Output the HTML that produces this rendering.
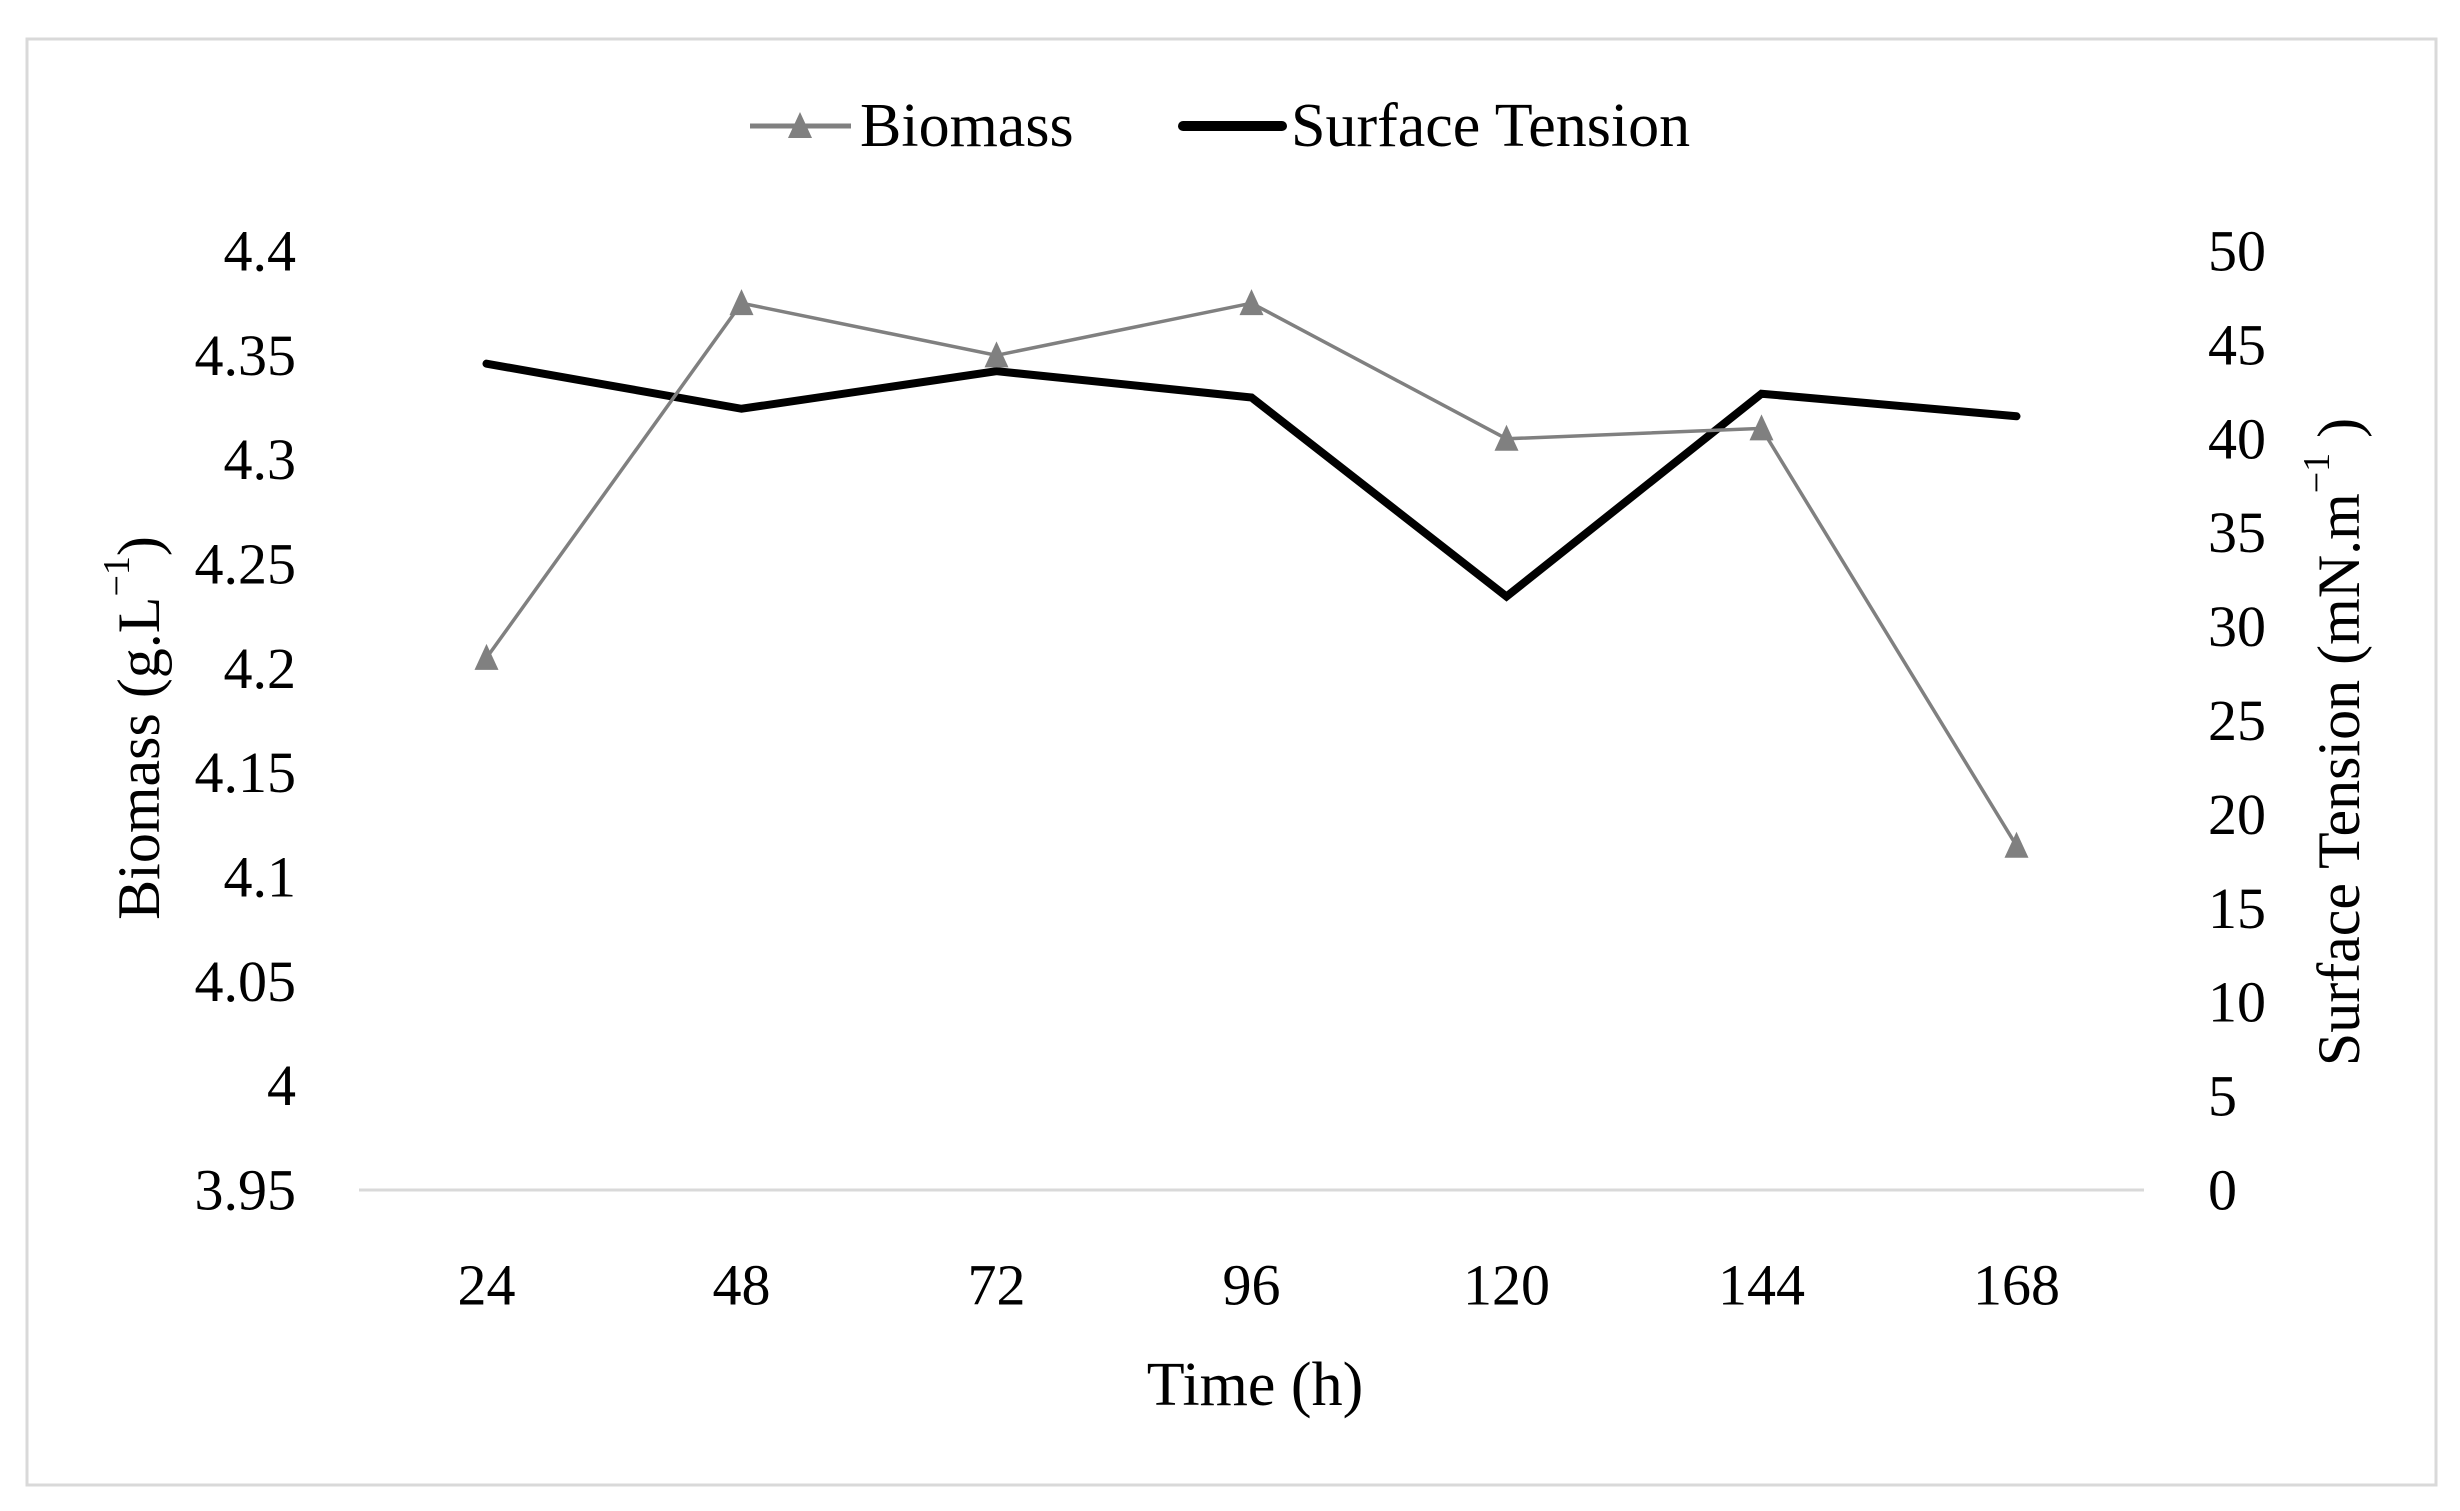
<!DOCTYPE html>
<html><head><meta charset="utf-8"><style>
html,body{margin:0;padding:0;background:#fff;}
svg{display:block;font-family:"Liberation Serif",serif;}
</style></head><body>
<svg width="2460" height="1511" viewBox="0 0 2460 1511">
<rect x="27" y="39" width="2409" height="1446" fill="#fff" stroke="#d9d9d9" stroke-width="3"/>
<g id="g"></g>
</svg>
<script>
const categories = ["24","48","72","96","120","144","168"];
const biomass = [4.205, 4.375, 4.35, 4.375, 4.31, 4.315, 4.115];
const surfaceTension = [44.0, 41.6, 43.6, 42.2, 31.6, 42.4, 41.2];
const leftTicks = ["3.95","4","4.05","4.1","4.15","4.2","4.25","4.3","4.35","4.4"];
const rightTicks = ["0","5","10","15","20","25","30","35","40","45","50"];

const NS="http://www.w3.org/2000/svg";
const g=document.getElementById('g');
const X0=359, X1=2144, Y0=1190, Y1=251;
const xPos=i=>X0+(X1-X0)*(i+0.5)/categories.length;
const yL=v=>Y0-(v-3.95)/(4.4-3.95)*(Y0-Y1);
const yR=v=>Y0-v/50*(Y0-Y1);
function el(tag,attrs,txt){const e=document.createElementNS(NS,tag);for(const k in attrs)e.setAttribute(k,attrs[k]);if(txt!==undefined)e.textContent=txt;g.appendChild(e);return e;}

let e=el('line',{x1:X0,x2:X1,y1:Y0,y2:Y0,stroke:'#d9d9d9','stroke-width':3});



leftTicks.forEach(t=>{const y=yL(parseFloat(t));
 const te=el('text',{x:296,y:y,'text-anchor':'end','dominant-baseline':'central','font-size':58,fill:'#000'},t);
 
 });
rightTicks.forEach(t=>{const y=yR(parseFloat(t));
 const te=el('text',{x:2208,y:y,'text-anchor':'start','dominant-baseline':'central','font-size':58,fill:'#000'},t);
 
 });
categories.forEach((c,i)=>{
 const te=el('text',{x:xPos(i),y:1285,'text-anchor':'middle','dominant-baseline':'central','font-size':58,fill:'#000'},c);
 
 });

let p=el('polyline',{points:surfaceTension.map((v,i)=>xPos(i)+','+yR(v)).join(' '),fill:'none',stroke:'#000','stroke-width':8,'stroke-linejoin':'miter','stroke-linecap':'round'});


p=el('polyline',{points:biomass.map((v,i)=>xPos(i)+','+yL(v)).join(' '),fill:'none',stroke:'#808080','stroke-width':3.5});


function tri(cx,cy){return `${cx},${cy-14} ${cx-12},${cy+12} ${cx+12},${cy+12}`;}
biomass.forEach((v,i)=>{
 const m=el('polygon',{points:tri(xPos(i),yL(v)),fill:'#808080'});
 
 });

e=el('line',{x1:750,x2:851,y1:126,y2:126,stroke:'#808080','stroke-width':5});


e=el('polygon',{points:tri(800,126),fill:'#808080'});


e=el('text',{x:860,y:126,'dominant-baseline':'central','font-size':62},'Biomass');


e=el('line',{x1:1183,x2:1282,y1:126,y2:126,stroke:'#000','stroke-width':10,'stroke-linecap':'round'});


e=el('text',{x:1291,y:126,'dominant-baseline':'central','font-size':62},'Surface Tension');



e=el('text',{x:1255,y:1385,'text-anchor':'middle','dominant-baseline':'central','font-size':62},'Time (h)');


e=el('text',{x:0,y:0,'text-anchor':'middle','dominant-baseline':'central','font-size':60,transform:'translate(139,728) rotate(-90)'});
e.innerHTML='Biomass (g.L<tspan font-size="38" dy="-22">−1</tspan><tspan dy="22">)</tspan>';


e=el('text',{x:0,y:0,'text-anchor':'middle','dominant-baseline':'central','font-size':60,transform:'translate(2339,742) rotate(-90)'});
e.innerHTML='Surface Tension (mN.m<tspan font-size="38" dy="-22">−1</tspan><tspan dy="22"> )</tspan>';


</script>
</body></html>
